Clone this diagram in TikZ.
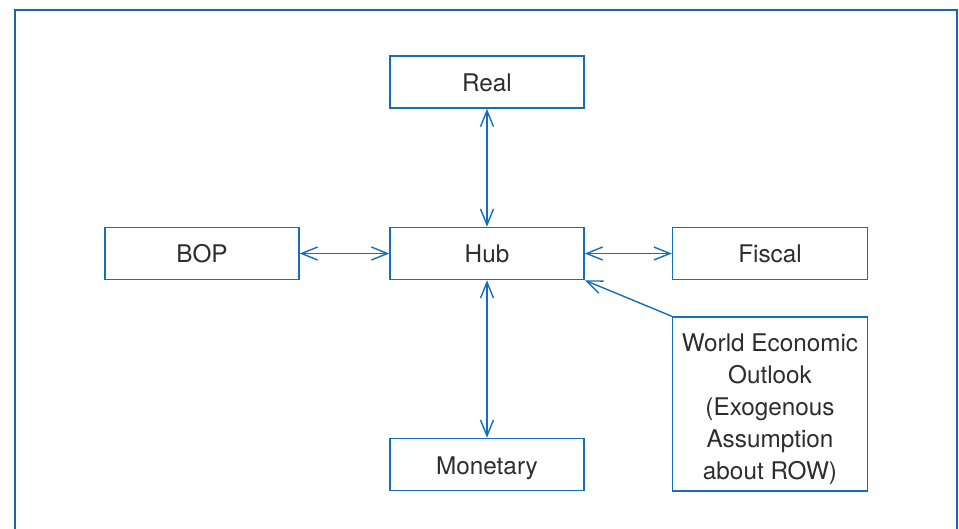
\documentclass[tikz,border=0pt]{standalone}
\usepackage{fontspec}
\setmainfont{TeX Gyre Heros}
\usetikzlibrary{arrows.meta}
\definecolor{lineblue}{RGB}{20,110,185}
\definecolor{frameblue}{RGB}{30,100,170}
\definecolor{textgray}{RGB}{45,45,45}
\tikzset{
  boxnode/.style={draw=lineblue, line width=1.5pt, rectangle, minimum width=194pt, minimum height=52pt,
    inner sep=0pt, text=textgray, font=\fontsize{24.3}{32}\selectfont, align=center,
    text height=19pt, text depth=0pt},
  tallbox/.style={draw=lineblue, line width=1.5pt, rectangle, minimum width=195pt, minimum height=174pt,
    inner sep=0pt, text=textgray, font=\fontsize{24.3}{32}\selectfont},
  link/.style={draw=lineblue, line width=1.4pt, {Straight Barb[length=16pt,width=13pt,line width=1.4pt]}-{Straight Barb[length=16pt,width=13pt,line width=1.4pt]}},
  onelink/.style={draw=lineblue, line width=1.4pt, -{Straight Barb[length=16pt,width=13pt,line width=1.4pt]}}
}
\begin{document}
\begin{tikzpicture}[x=1pt,y=-1pt]
\useasboundingbox (0,0) rectangle (959,529);
\draw[frameblue, line width=1.5pt] (15,540) -- (15,10) -- (957,10) -- (957,540);
\node[boxnode] (real) at (487,82) {Real};
\node[boxnode] (hub) at (487,253.5) {Hub};
\node[boxnode] (bop) at (202,253.5) {BOP};
\node[boxnode, minimum width=195pt] (fiscal) at (770,253.5) {Fiscal};
\node[boxnode] (monetary) at (487,464.5) {Monetary};
\node[tallbox] (weo) at (770,404) {\raisebox{0pt}[\dimexpr\height+10pt\relax][\depth]{\begin{tabular}{@{}c@{}}World Economic\\Outlook\\(Exogenous\\Assumption\\about ROW)\end{tabular}}};
\draw[link] (real) -- (hub);
\draw[link] (bop) -- (hub);
\draw[link] (hub) -- (fiscal);
\draw[link] (hub) -- (monetary);
\draw[onelink] (weo.north west) -- (hub.south east);
\end{tikzpicture}
\end{document}
